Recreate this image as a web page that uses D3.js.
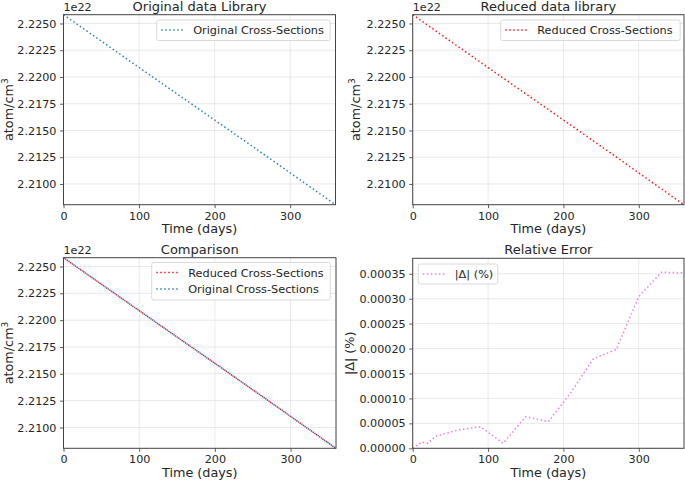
<!DOCTYPE html>
<html><head><meta charset="utf-8">
<script src="https://cdn.jsdelivr.net/npm/d3@7"></script>
<style>
body{margin:0;background:#fff;}
text{font-family:"DejaVu Sans",sans-serif;fill:#262626;}
</style></head>
<body><svg id="c" width="685" height="481"></svg>
<script>
// time steps (days)
const days = [0, 12, 20, 30, 60, 90, 120, 150, 180, 210, 240, 270, 300, 330, 360];
// atom density (x 1e22 atom/cm3)
const originalDensity = [2.22582, 2.22523, 2.22483, 2.22434, 2.22286, 2.22138, 2.21990, 2.21843, 2.21696, 2.21549, 2.21401, 2.21253, 2.21104, 2.20955, 2.20806];
const reducedDensity  = [2.22582, 2.225230, 2.224830, 2.224339, 2.222859, 2.221379, 2.219900, 2.218429, 2.216959, 2.215488, 2.214006, 2.212526, 2.211033, 2.209542, 2.208052];
// relative error |Δ| (%)
const relError = [0, 0.0000126, 0.00001, 0.000024, 0.0000367, 0.0000433, 0.00001, 0.0000634, 0.0000534, 0.000112, 0.00018, 0.000198, 0.000304, 0.000353, 0.000352];
const densityTicks = [2.2100, 2.2125, 2.2150, 2.2175, 2.2200, 2.2225, 2.2250];
const errorTicks = [0, 0.00005, 0.00010, 0.00015, 0.00020, 0.00025, 0.00030, 0.00035];
const timeTicks = [0, 100, 200, 300];

const svg = d3.select("#c");
const colors = {orig:"#2a7fca", red:"#ff1a1a", pink:"#ee7fe0"};

function panel(o){
  const g = svg.append("g");
  const x = d3.scaleLinear().domain([0,360]).range([o.l,o.r]);
  const y = d3.scaleLinear().domain(o.ydom).range([o.b,o.t]);
  // grid
  g.append("g").selectAll("line").data(timeTicks).join("line")
    .attr("x1",d=>x(d)).attr("x2",d=>x(d)).attr("y1",o.t).attr("y2",o.b)
    .attr("stroke","#e3e3e3").attr("stroke-width",0.8);
  g.append("g").selectAll("line").data(o.yticks).join("line")
    .attr("y1",d=>y(d)).attr("y2",d=>y(d)).attr("x1",o.l).attr("x2",o.r)
    .attr("stroke","#e3e3e3").attr("stroke-width",0.8);
  // lines
  const clipId = "clip"+o.id;
  svg.append("clipPath").attr("id",clipId).append("rect")
    .attr("x",o.l).attr("y",o.t-2).attr("width",o.r-o.l).attr("height",o.b-o.t+4);
  o.series.forEach(s=>{
    const line = d3.line().x((d,i)=>x(days[i])).y(d=>y(d));
    g.append("path").datum(s.values).attr("d",line).attr("fill","none")
      .attr("stroke",s.color).attr("stroke-width",1.5).attr("stroke-dasharray","1.5,2.5")
      .attr("stroke-dashoffset",s.offset||0)
      .attr("clip-path","url(#"+clipId+")");
  });
  // axes
  const xa = g.append("g").attr("transform",`translate(0,${o.b})`)
    .call(d3.axisBottom(x).tickValues(timeTicks).tickFormat(d3.format("d")).tickSize(3.5).tickPadding(3.5));
  const ya = g.append("g").attr("transform",`translate(${o.l},0)`)
    .call(d3.axisLeft(y).tickValues(o.yticks).tickFormat(d3.format(o.fmt)).tickSize(3.5).tickPadding(3.5));
  [xa,ya].forEach(a=>{
    a.select(".domain").remove();
    a.selectAll("line").attr("stroke","#333").attr("stroke-width",0.8);
    a.selectAll("text").attr("font-size","11.2px").attr("fill","#262626").attr("font-family","DejaVu Sans");
  });
  // frame
  g.append("rect").attr("x",o.l).attr("y",o.t).attr("width",o.r-o.l).attr("height",o.b-o.t)
    .attr("fill","none").attr("stroke","#444").attr("stroke-width",1);
  // title
  g.append("text").attr("x",(o.l+o.r)/2).attr("y",o.t-4).attr("text-anchor","middle")
    .attr("font-size","13px").text(o.title);
  // xlabel
  g.append("text").attr("x",(o.l+o.r)/2).attr("y",o.b+28.5).attr("text-anchor","middle")
    .attr("font-size","12.8px").text("Time (days)");
  // ylabel
  const yl = g.append("text").attr("transform",`translate(${o.yl},${(o.t+o.b)/2}) rotate(-90)`)
    .attr("text-anchor","middle").attr("font-size","12.8px");
  if(o.ylabel==="atom"){
    yl.append("tspan").text("atom/cm");
    yl.append("tspan").attr("font-size","9px").attr("dy","-5").text("3");
  } else yl.text(o.ylabel);
  if(o.offset){
    g.append("text").attr("x",o.l).attr("y",o.t-3.5).attr("font-size","11.2px").text("1e22");
  }
  // legend
  const L = o.legend;
  g.append("rect").attr("x",L.x).attr("y",L.y).attr("width",L.w).attr("height",L.h).attr("rx",2)
    .attr("fill","#fff").attr("fill-opacity",0.8).attr("stroke","#d0d0d0").attr("stroke-width",0.8);
  L.items.forEach((it,i)=>{
    const cy = L.y + 10 + i*16.5;
    g.append("line").attr("x1",L.x+4.5).attr("x2",L.x+27.5).attr("y1",cy).attr("y2",cy)
      .attr("stroke",it.color).attr("stroke-width",1.5).attr("stroke-dasharray","1.5,2.5");
    g.append("text").attr("x",L.x+36.5).attr("y",cy+4).attr("font-size","11.3px").text(it.label);
  });
}

const dExt = d3.extent(originalDensity);
panel({id:1,l:63.5,r:335.5,t:14.7,b:204.7,ydom:dExt,yticks:densityTicks,fmt:".4f",
  title:"Original data Library",ylabel:"atom",yl:13,offset:true,
  series:[{values:originalDensity,color:colors.orig}],
  legend:{x:156.7,y:20,w:173.5,h:20.5,items:[{label:"Original Cross-Sections",color:colors.orig}]}});
panel({id:2,l:412.7,r:684,t:14.7,b:204.7,ydom:dExt,yticks:densityTicks,fmt:".4f",
  title:"Reduced data library",ylabel:"atom",yl:360,offset:true,
  series:[{values:reducedDensity,color:colors.red}],
  legend:{x:500.7,y:20,w:179.5,h:20.5,items:[{label:"Reduced Cross-Sections",color:colors.red}]}});
panel({id:3,l:63.5,r:336,t:257.7,b:448.3,ydom:dExt,yticks:densityTicks,fmt:".4f",
  title:"Comparison",ylabel:"atom",yl:13,offset:true,
  series:[{values:reducedDensity,color:colors.red},{values:originalDensity,color:colors.orig,offset:2}],
  legend:{x:151.7,y:262.5,w:178.5,h:37.5,items:[{label:"Reduced Cross-Sections",color:colors.red},{label:"Original Cross-Sections",color:colors.orig}]}});
panel({id:4,l:412.7,r:684,t:258.3,b:448.3,ydom:[0,0.000381],yticks:errorTicks,fmt:".5f",
  title:"Relative Error",ylabel:"|Δ| (%)",yl:354,offset:false,
  series:[{values:relError,color:colors.pink}],
  legend:{x:418.3,y:264,w:79.5,h:20,items:[{label:"|Δ| (%)",color:colors.pink}]}});
</script></body></html>
